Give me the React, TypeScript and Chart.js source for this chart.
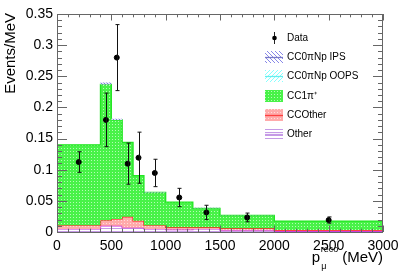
import React, { useEffect, useRef } from "react";
import { Chart, registerables } from "chart.js";

Chart.register(...registerables);

// Bin edges (MeV)
const binEdges = [0, 400, 500, 600, 700, 800, 1000, 1250, 1500, 2000, 3000];
// Stack components, Events/MeV per bin (bottom to top)
const otherVals = [0.005, 0.010, 0.010, 0.007, 0.007, 0.005, 0.004, 0.005, 0.003, 0.0016];
const ccOtherVals = [0.006, 0.009, 0.011, 0.0175, 0.011, 0.006, 0.0035, 0.0025, 0.003, 0.0016];
const cc1piVals = [0.129, 0.218, 0.159, 0.1195, 0.0725, 0.0524, 0.0405, 0.0305, 0.0205, 0.0144];
const oopsVals = [0.0, 0.0, 0.0, 0.0, 0.0, 0.0, 0.0, 0.0, 0.0, 0.0];
const ipsVals = [0.0, 0.003, 0.002, 0.0, 0.0, 0.001, 0.0, 0.001, 0.0005, 0.0];

// Data points
const dataX = [200, 450, 550, 650, 750, 900, 1125, 1375, 1750, 2500];
const dataY = [0.1123, 0.180, 0.280, 0.1097, 0.1193, 0.0948, 0.0554, 0.0314, 0.0234, 0.0192];
const dataErr = [0.0165, 0.043, 0.053, 0.033, 0.041, 0.022, 0.0147, 0.0115, 0.007, 0.005];

const xTickStep = 500;
const yTickStep = 0.05;

const legendLabels = ["Data", "CC0\u03c0Np IPS", "CC0\u03c0Np OOPS", "CC1\u03c0\u207a", "CCOther", "Other"];

const FONT = "'Liberation Sans', Arial, sans-serif";

function makePattern(ctx: CanvasRenderingContext2D, w: number, h: number, draw: (g: CanvasRenderingContext2D) => void) {
  const c = document.createElement("canvas");
  c.width = w;
  c.height = h;
  const g = c.getContext("2d")!;
  draw(g);
  return ctx.createPattern(c, "repeat")!;
}

export default function App() {
  const ref = useRef<HTMLCanvasElement>(null);

  useEffect(() => {
    document.body.style.margin = "0";
    const canvas = ref.current!;
    const ctx = canvas.getContext("2d")!;

    const greenPat = makePattern(ctx, 3, 3, (g) => {
      g.fillStyle = "#48f248";
      g.fillRect(0, 0, 3, 3);
      g.fillStyle = "#b4fcb4";
      g.fillRect(1, 1, 1, 1);
    });
    const redPat = makePattern(ctx, 3, 3, (g) => {
      g.fillStyle = "#ffaaaa";
      g.fillRect(0, 0, 3, 3);
      g.fillStyle = "#ffdcdc";
      g.fillRect(1, 1, 1, 1);
    });
    const otherPat = makePattern(ctx, 4, 3, (g) => {
      g.fillStyle = "#ffffff";
      g.fillRect(0, 0, 4, 3);
      g.fillStyle = "#c59ae6";
      g.fillRect(0, 0, 4, 1);
    });
    const ipsPat = makePattern(ctx, 3, 3, (g) => {
      g.fillStyle = "#e4e4fa";
      g.fillRect(0, 0, 3, 3);
      g.fillStyle = "#7c7cdc";
      for (let i = 0; i < 3; i++) g.fillRect(i, i, 1, 1);
    });
    const oopsPat = makePattern(ctx, 4, 4, (g) => {
      g.fillStyle = "#ffffff";
      g.fillRect(0, 0, 4, 4);
      g.fillStyle = "#88ffff";
      for (let i = 0; i < 4; i++) g.fillRect(3 - i, i, 1, 1);
    });

    // cumulative stacks
    const comps = [otherVals, ccOtherVals, cc1piVals, oopsVals, ipsVals];
    const cum: number[][] = [];
    comps.forEach((arr, k) => {
      cum.push(arr.map((v, i) => v + (k > 0 ? cum[k - 1][i] : 0)));
    });
    const toPts = (vals: number[]) => {
      const pts = binEdges.slice(0, -1).map((e, i) => ({ x: e, y: vals[i] }));
      pts.push({ x: binEdges[binEdges.length - 1], y: vals[vals.length - 1] });
      return pts;
    };

    const styles = [
      { fill: otherPat, border: "#cc22dd", bw: 1.3 },
      { fill: redPat, border: "#ff2020", bw: 1.3 },
      { fill: greenPat, border: "#22e622", bw: 1.3 },
      { fill: oopsPat, border: "#66eeee", bw: 0 },
      { fill: ipsPat, border: "#7878c8", bw: 0 },
    ];

    const histSets: any[] = cum.map((vals, k) => ({
      type: "line",
      data: toPts(vals),
      stepped: "before",
      borderColor: styles[k].border,
      borderWidth: styles[k].bw,
      backgroundColor: styles[k].fill,
      fill: k === 0 ? "origin" : "-1",
      pointRadius: 0,
      order: 10 - k,
    }));

    const dataSet: any = {
      type: "scatter",
      data: dataX.map((x, i) => ({ x, y: dataY[i] })),
      backgroundColor: "#000",
      borderColor: "#000",
      pointRadius: 2.5,
      order: 0,
    };

    const rootFrame = {
      id: "rootFrame",
      afterDatasetsDraw(chart: any) {
        const c = chart.ctx as CanvasRenderingContext2D;
        const { left, right, top, bottom } = chart.chartArea;
        const xs = chart.scales.x;
        const ys = chart.scales.y;
        // error bars
        const meta = chart.getDatasetMeta(chart.data.datasets.length - 1);
        c.save();
        c.strokeStyle = "#111";
        c.lineWidth = 1;
        meta.data.forEach((pt: any, i: number) => {
          const x = Math.round(pt.x) + 0.5;
          const y1 = ys.getPixelForValue(dataY[i] + dataErr[i]);
          const y2 = ys.getPixelForValue(dataY[i] - dataErr[i]);
          c.beginPath();
          c.moveTo(x, y1);
          c.lineTo(x, y2);
          c.moveTo(x - 2, y1);
          c.lineTo(x + 2, y1);
          c.moveTo(x - 2, y2);
          c.lineTo(x + 2, y2);
          c.stroke();
        });
        c.restore();

        // frame
        c.save();
        c.strokeStyle = "#666";
        c.lineWidth = 1;
        c.strokeRect(Math.round(left) + 0.5, Math.round(top) + 0.5, Math.round(right - left) - 1, Math.round(bottom - top));
        c.beginPath();
        // y ticks
        for (let v = 0; v <= 0.3501; v += 0.01) {
          const y = Math.round(ys.getPixelForValue(v)) + 0.5;
          const major = Math.abs(v / yTickStep - Math.round(v / yTickStep)) < 1e-6;
          const len = major ? 10 : 5;
          c.moveTo(left, y);
          c.lineTo(left + len, y);
          c.moveTo(right, y);
          c.lineTo(right - len, y);
        }
        // x ticks
        for (let v = 0; v <= 3000; v += 100) {
          const x = Math.round(xs.getPixelForValue(v)) + 0.5;
          const major = v % xTickStep === 0;
          const len = major ? 6.5 : 3.3;
          c.moveTo(x, top);
          c.lineTo(x, top + len);
          c.moveTo(x, bottom);
          c.lineTo(x, bottom - len);
        }
        c.stroke();
        c.restore();
      },
      afterDraw(chart: any) {
        const c = chart.ctx as CanvasRenderingContext2D;
        c.save();
        // y title
        c.fillStyle = "#000";
        c.font = `15px ${FONT}`;
        c.translate(15, 13);
        c.rotate(-Math.PI / 2);
        c.textAlign = "right";
        c.textBaseline = "alphabetic";
        c.fillText("Events/MeV", 0, 0);
        c.restore();

        // x title
        c.save();
        c.fillStyle = "#000";
        c.font = `15px ${FONT}`;
        c.textAlign = "right";
        c.textBaseline = "alphabetic";
        c.fillText("(MeV)", 383, 262);
        const wM = c.measureText("(MeV)").width;
        c.font = `9px ${FONT}`;
        const wr = c.measureText("reco").width;
        const rx = 383 - wM - 4 - wr;
        c.textAlign = "left";
        c.fillText("reco", rx, 252);
        c.fillText("\u03bc", rx + 0.5, 269);
        c.font = `15px ${FONT}`;
        const wp = c.measureText("p").width;
        c.fillText("p", rx - wp - 0.5, 262);
        c.restore();

        // legend
        c.save();
        const sx = 265, sw = 18, sh = 12, tx = 287;
        const rows = [38, 57, 76, 96, 115, 134];
        const legendPats = [
          makePattern(c, 4, 4, (g) => {
            g.fillStyle = "#ffffff";
            g.fillRect(0, 0, 4, 4);
            g.fillStyle = "#8888e8";
            for (let i = 0; i < 4; i++) g.fillRect(i, i, 1, 1);
          }),
          oopsPat,
          greenPat,
          redPat,
          otherPat,
        ];
        const legendBorders = ["#7878c8", "#66eeee", "", "#ff4040", "#c59ae6"];
        c.font = `10px ${FONT}`;
        c.textBaseline = "middle";
        c.textAlign = "left";
        legendLabels.forEach((lab, i) => {
          const y = rows[i];
          c.fillStyle = "#000";
          c.fillText(lab, tx, y + 0.5);
          if (i === 0) {
            c.strokeStyle = "#222";
            c.lineWidth = 1;
            c.beginPath();
            c.moveTo(274.5, y - 6);
            c.lineTo(274.5, y + 6);
            c.stroke();
            c.beginPath();
            c.arc(274.5, y, 2.3, 0, Math.PI * 2);
            c.fill();
          } else {
            c.fillStyle = legendPats[i - 1] as any;
            c.fillRect(sx, y - sh / 2, sw, sh);
            const b = legendBorders[i - 1];
            if (b) {
              c.strokeStyle = b;
              c.lineWidth = 1.3;
              c.beginPath();
              c.moveTo(sx, y + 0.5);
              c.lineTo(sx + sw, y + 0.5);
              c.stroke();
            }
          }
        });
        c.restore();
      },
    };

    const chart = new Chart(canvas, {
      type: "line",
      data: { datasets: [...histSets, dataSet] },
      options: {
        animation: false,
        responsive: false,
        maintainAspectRatio: false,
        layout: { padding: { top: 14, right: 24, left: 0, bottom: 0 } },
        plugins: { legend: { display: false }, tooltip: { enabled: false } },
        scales: {
          x: {
            type: "linear",
            min: 0,
            max: 3000,
            grid: { display: false, drawTicks: false },
            border: { display: false },
            ticks: {
              stepSize: xTickStep,
              padding: 6,
              color: "#000",
              font: { family: FONT, size: 14 },
              maxRotation: 0,
              callback: (v: any) => String(v),
            },
            afterFit(scale: any) {
              scale.height = 43;
            },
          },
          y: {
            type: "linear",
            min: 0,
            max: 0.35,
            grid: { display: false, drawTicks: false },
            border: { display: false },
            ticks: {
              stepSize: yTickStep,
              padding: 4,
              color: "#000",
              font: { family: FONT, size: 14 },
              callback: (v: any) => String(Number(Number(v).toFixed(2))),
            },
            afterFit(scale: any) {
              scale.width = 57;
            },
          },
        },
      },
      plugins: [rootFrame],
    });
    return () => chart.destroy();
  }, []);

  return (
    <div style={{ width: 407, height: 275 }}>
      <canvas ref={ref} width={407} height={275} style={{ display: "block" }} />
    </div>
  );
}
